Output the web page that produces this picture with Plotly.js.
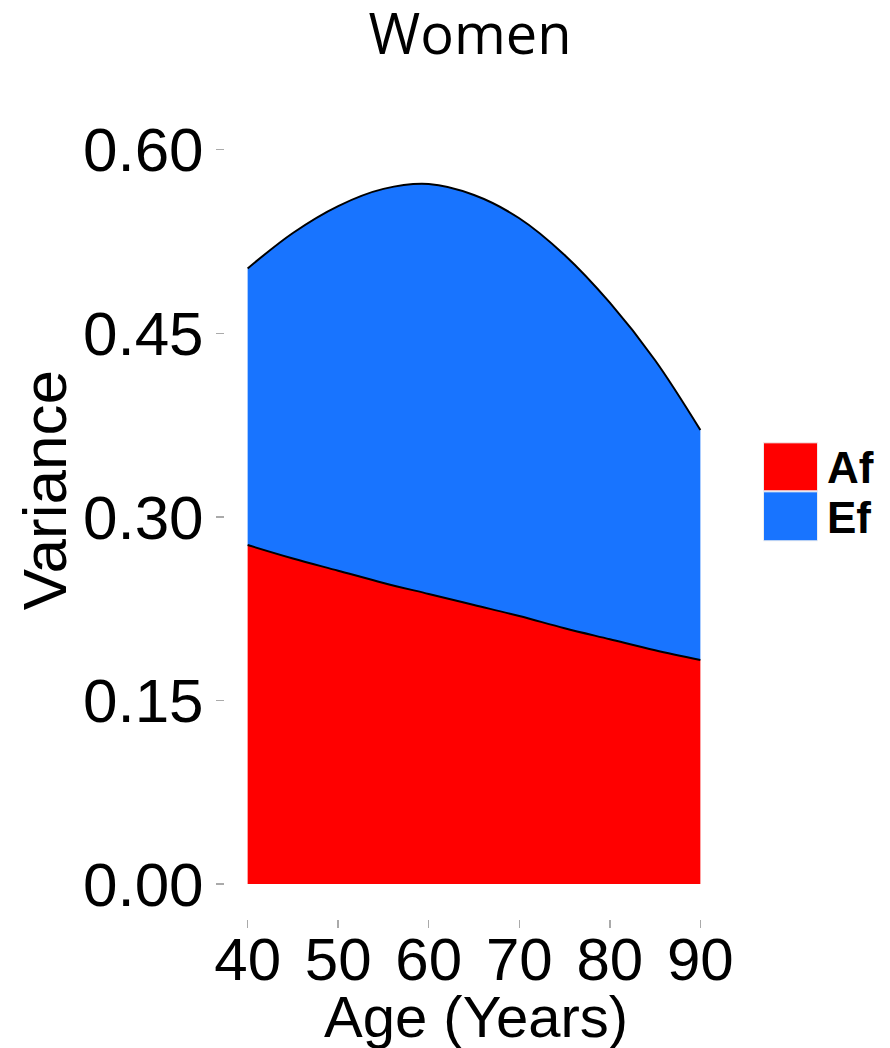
<!DOCTYPE html>
<html>
<head>
<meta charset="utf-8">
<script src="https://cdn.plot.ly/plotly-3.0.1.min.js"></script>
<style>html,body{margin:0;padding:0;background:#fff;}#chart{width:890px;height:1048px;}</style>
</head>
<body>
<div id="chart"></div>
<script>
// ---- data ----
const ages = [40, 45, 50, 55, 60, 65, 70, 75, 80, 85, 90];
const afValues = [0.277, 0.266, 0.256, 0.246, 0.237, 0.228, 0.219, 0.209, 0.200, 0.191, 0.183];
const efValues = [0.226, 0.266, 0.298, 0.322, 0.335, 0.335, 0.325, 0.305, 0.275, 0.237, 0.188];
const seriesNames = ["Af", "Ef"];
const seriesColors = ["#FF0000", "#1874FF"];
const xTicks = [40, 50, 60, 70, 80, 90];
const yTicks = [0.00, 0.15, 0.30, 0.45, 0.60];
const yTickLabels = ["0.00", "0.15", "0.30", "0.45", "0.60"];

// ---- layout geometry (pixels) ----
const W = 890, H = 1048;
const plotL = 225.4, plotR = 722.6, plotT = 149.3, plotB = 919;
const pw = plotR - plotL, ph = plotB - plotT;
const px = x => (x - plotL) / pw;
const py = y => (plotB - y) / ph;

const traces = [afValues, efValues].map((vals, i) => ({
  x: ages,
  y: vals,
  name: seriesNames[i],
  type: "scatter",
  mode: "lines",
  stackgroup: "one",
  line: {color: "#000000", width: 2, shape: "spline", smoothing: 1},
  fillcolor: seriesColors[i],
  hoverinfo: "skip",
  showlegend: false
}));

// custom legend (large keys)
const shapes = [];
const annotations = [];
const keyX0 = 763, keyX1 = 817;
const keyY = [[443, 491], [492, 541]];
seriesNames.forEach((nm, i) => {
  shapes.push({
    type: "rect", xref: "paper", yref: "paper",
    x0: px(keyX0), x1: px(keyX1), y0: py(keyY[i][1]), y1: py(keyY[i][0]),
    fillcolor: seriesColors[i], line: {color: "#f0f0f0", width: 1}
  });
  annotations.push({
    text: "<b>" + nm + "</b>", xref: "paper", yref: "paper",
    x: px(824), y: py((keyY[i][0] + keyY[i][1]) / 2 + 1),
    xanchor: "left", yanchor: "middle", showarrow: false,
    font: {family: "Liberation Sans, Arial, sans-serif", size: 44, color: "#000"}
  });
});
// axis titles
annotations.push({
  text: "Variance", xref: "paper", yref: "paper",
  x: px(46), y: py(490), xanchor: "center", yanchor: "middle",
  textangle: -90, showarrow: false,
  font: {family: "Liberation Sans, Arial, sans-serif", size: 62, color: "#000"}
});
annotations.push({
  text: "Age (Years)", xref: "paper", yref: "paper",
  x: px(476), y: py(1016), xanchor: "center", yanchor: "middle",
  showarrow: false,
  font: {family: "Liberation Sans, Arial, sans-serif", size: 58, color: "#000"}
});

const layout = {
  width: W, height: H,
  margin: {l: plotL, r: W - plotR, t: plotT, b: H - plotB, pad: 0},
  paper_bgcolor: "#ffffff",
  plot_bgcolor: "#ffffff",
  title: {
    text: "Women",
    x: 470 / W, xanchor: "center", xref: "container",
    y: 1 - 34 / H, yanchor: "middle", yref: "container",
    font: {family: "Open Sans, Noto Sans, sans-serif", size: 56, color: "#000"}
  },
  xaxis: {
    range: [37.5, 92.5],
    tickvals: xTicks,
    ticktext: xTicks.map(String),
    ticks: "outside", ticklen: 8, tickwidth: 1.5, tickcolor: "#aaaaaa",
    ticklabelstandoff: -20,
    showgrid: false, zeroline: false, showline: false,
    tickfont: {family: "Liberation Sans, Arial, sans-serif", size: 60, color: "#000"}
  },
  yaxis: {
    range: [-0.0286, 0.6006],
    tickvals: yTicks,
    ticktext: yTickLabels,
    ticks: "outside", ticklen: 8, tickwidth: 1.5, tickcolor: "#aaaaaa",
    showgrid: false, zeroline: false, showline: false,
    tickfont: {family: "Liberation Sans, Arial, sans-serif", size: 62, color: "#000"}
  },
  shapes: shapes,
  annotations: annotations,
  showlegend: false
};

Plotly.newPlot("chart", traces, layout, {displayModeBar: false, staticPlot: true});
</script>
</body>
</html>
